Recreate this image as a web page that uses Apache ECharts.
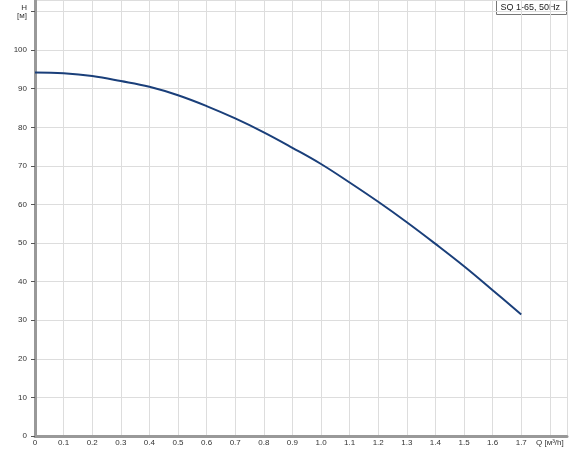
<!DOCTYPE html>
<html><head><meta charset="utf-8">
<script src="https://cdn.jsdelivr.net/npm/echarts@6/dist/echarts.min.js"></script>
<style>body{margin:0}#main{width:570px;height:450px}</style>
</head><body><div id="main"></div>
<script>
var flow = [0, 0.1, 0.2, 0.3, 0.4, 0.5, 0.6, 0.7, 0.8, 0.9, 1.0, 1.1, 1.2, 1.3, 1.4, 1.5, 1.6, 1.7];
var head = [94.2, 94.0, 93.3, 92.0, 90.5, 88.3, 85.5, 82.3, 78.7, 74.7, 70.5, 65.7, 60.7, 55.4, 49.8, 44.0, 37.8, 31.5];

var myChart = echarts.init(document.getElementById('main'));
var option = {
    animation: false,
    grid: { left: 35, right: 3, top: 0, bottom: 14 },
    graphic: [{
        type: 'group', right: 3, top: 0,
        children: [
            { type: 'rect', shape: { x: 0, y: 0, width: 70, height: 14 }, style: { fill: '#fff', stroke: '#777', lineWidth: 1 } },
            { type: 'text', x: 4, y: 3, style: { text: 'SQ 1-65, 50Hz', font: '9px Arial', fill: '#222' } }
        ]
    }],
    xAxis: {
        type: 'value', min: 0, max: 1.86, interval: 0.1,
        axisLine: { lineStyle: { color: '#999', width: 3 } },
        axisTick: { show: false },
        splitLine: { lineStyle: { color: '#ddd' } },
        axisLabel: {
            fontSize: 8, color: '#333', margin: 3, showMaxLabel: false,
            formatter: function (v) {
                v = Math.round(v * 10) / 10;
                if (v === 1.8) return 'Q [м³/h]';
                if (v > 1.8) return '';
                return v === 0 ? '0' : v.toFixed(1);
            }
        }
    },
    yAxis: {
        type: 'value', min: 0, max: 113, interval: 10,
        axisLine: { show: true, lineStyle: { color: '#999', width: 3 } },
        axisTick: { show: true, length: 4, lineStyle: { color: '#555' } },
        splitLine: { lineStyle: { color: '#ddd' } },
        axisLabel: {
            fontSize: 8, color: '#333', margin: 8, showMaxLabel: false,
            formatter: function (v) { return v === 110 ? 'H\n[м]' : String(v); }
        }
    },
    series: [{
        type: 'line', smooth: 0.4, symbol: 'none',
        lineStyle: { color: '#1a3f7a', width: 2 },
        data: flow.map(function (q, i) { return [q, head[i]]; })
    }]
};
myChart.setOption(option);
</script></body></html>
